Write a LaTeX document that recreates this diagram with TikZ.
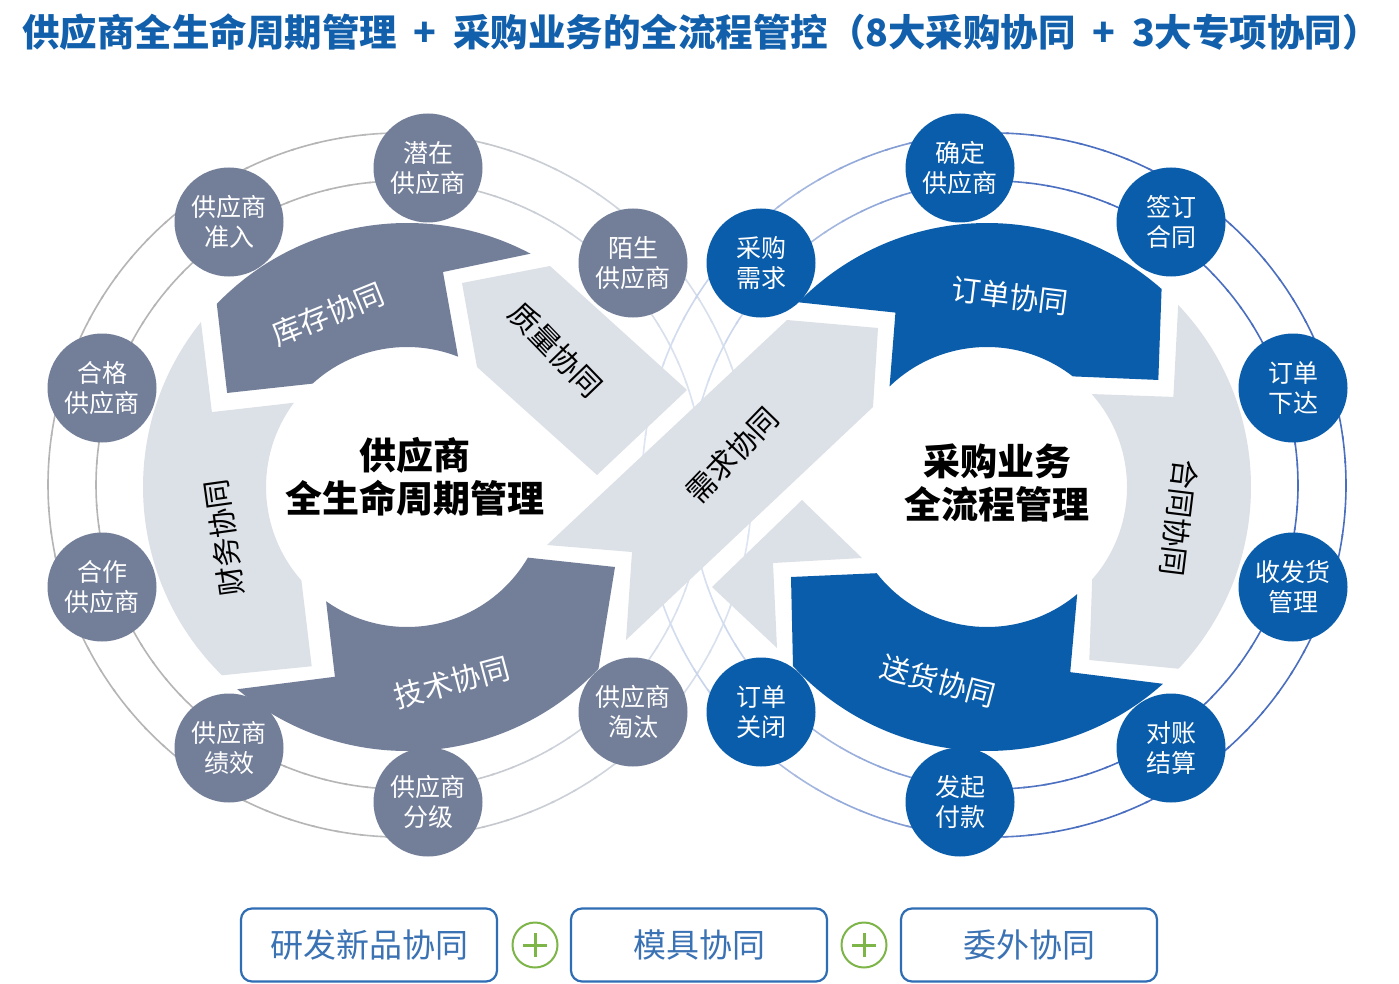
\documentclass[tikz,border=0pt]{standalone}
\usepackage{fontspec}
\newfontfamily\cjk{Noto Sans CJK SC}
\definecolor{blueA}{HTML}{0A5DAA}
\definecolor{grayA}{HTML}{737F99}
\definecolor{lightA}{HTML}{DCE0E7}
\definecolor{ringG}{HTML}{B5B5B5}
\definecolor{ringB}{HTML}{4A6EC0}
\definecolor{ringL}{HTML}{DDE5F3}
\definecolor{titleblue}{HTML}{1260AC}
\definecolor{boxblue}{HTML}{2F6DB5}
\definecolor{boxtext}{HTML}{3B72B4}
\definecolor{plusgreen}{HTML}{7DB548}
\tikzset{
  sat/.style={circle, minimum size=109pt, inner sep=0pt, text=white, align=center,
    font=\cjk\fontsize{25}{30}\selectfont},
  satL/.style={sat, fill=grayA},
  satR/.style={sat, fill=blueA},
  arrlbl/.style={inner sep=0pt, font=\cjk\fontsize{29.5}{30}\selectfont},
  centerlbl/.style={inner sep=0pt, align=center, font=\cjk\bfseries\fontsize{37}{43}\selectfont},
  boxnode/.style={draw=boxblue, line width=2.2pt, rounded corners=11pt, fill=white,
    minimum width=256pt, minimum height=73pt, inner sep=0pt, text=boxtext,
    font=\cjk\fontsize{33}{36}\selectfont},
  plusnode/.style={circle, draw=plusgreen, line width=2pt, minimum size=45pt, inner sep=0pt},
  plusbar/.style={plusgreen, line width=3pt}
}
\begin{document}
\begin{tikzpicture}[x=1pt,y=-1pt]
\useasboundingbox (0,0) rectangle (1399,984);
\fill[white] (0,0) rectangle (1399,984);

% ---------- rings ----------
\begin{scope}[shift={(400,485)}]
\foreach \a in {0,4,...,356}{
  \pgfmathtruncatemacro\p{max(0,min(100,100*(1-cos(\a+2))*0.85))}
  \foreach \r in {304,352}{
    \draw[ringG!\p!ringL, line width=1.6pt] (\a:\r) arc[start angle=\a, end angle=\a+4.5, radius=\r];
  }
}
\end{scope}
\begin{scope}[shift={(994,485)}]
\foreach \a in {0,4,...,356}{
  \pgfmathtruncatemacro\p{max(0,min(100,100*(1+cos(\a+2))*0.85))}
  \foreach \r in {304,352}{
    \draw[ringB!\p!ringL, line width=1.6pt] (\a:\r) arc[start angle=\a, end angle=\a+4.5, radius=\r];
  }
}
\end{scope}

% ---------- left cycle arrows ----------
\begin{scope}[shift={(407,487)}]
% finance (light, left)
\fill[lightA] (134.5:264) arc[start angle=134.5, end angle=218.7, radius=264]
  -- (201:209) -- (216.7:141) arc[start angle=216.7, end angle=138.5, radius=141]
  -- (118:203) -- cycle;
% inventory (dark, top)
\fill[grayA] (223.9:264) arc[start angle=223.9, end angle=297.9, radius=264]
  -- (279.5:218) -- (291.4:140) arc[start angle=291.4, end angle=227.6, radius=140]
  -- (207.6:203) -- cycle;
% technology (dark, bottom)
\fill[grayA] (43.5:264) arc[start angle=43.5, end angle=130, radius=264]
  -- (110.8:203) -- (125.3:140) arc[start angle=125.3, end angle=30.3, radius=140]
  -- (208,80) -- cycle;
\end{scope}

% ---------- right cycle arrows ----------
\begin{scope}[shift={(987,487)}]
% order (blue, top)
\fill[blueA] (-48.6:264) arc[start angle=-48.6, end angle=-135.6, radius=264]
  -- (-117.7:197) -- (-134.1:140) arc[start angle=-134.1, end angle=-52.2, radius=140]
  -- (-32:202) -- cycle;
% contract (light, right)
\fill[lightA] (-43.6:264) -- (-25.8:207) -- (-41.6:140)
  arc[start angle=-41.6, end angle=41.3, radius=140]
  -- (59.4:201) -- (43.5:264) arc[start angle=43.5, end angle=-43.6, radius=264] -- cycle;
% delivery (blue, bottom)
\fill[blueA] (48.2:264) -- (65.8:203) -- (49.9:140)
  arc[start angle=49.9, end angle=142, radius=140]
  -- (-196,90) -- (137.3:264) arc[start angle=137.3, end angle=48.2, radius=264] -- cycle;
\end{scope}

% ---------- crossing pieces ----------
\fill[lightA] (462,283) -- (550,266) -- (687,390) -- (597,475) -- (477,367) -- cycle;
\fill[lightA] (712,587) -- (802,500) -- (862,558) -- (773,563) -- (777,648) -- cycle;
\fill[lightA] (547,545) -- (632,552) -- (626,640) -- (873,407) -- (878,328) -- (787,320) -- cycle;

% ---------- arrow labels ----------
\node[arrlbl, text=white, rotate=22] (kc) at (328,314) {库存协同};
\node[arrlbl, text=black, rotate=-46] (zl) at (556,350) {质量协同};
\node[arrlbl, text=black, rotate=98] (cw) at (224,538) {财务协同};
\node[arrlbl, text=white, rotate=15] (js) at (452,682) {技术协同};
\node[arrlbl, text=black, rotate=46] (xq) at (732,455) {需求协同};
\node[arrlbl, text=white, rotate=-7] (dd) at (1010,296) {订单协同};
\node[arrlbl, text=black, rotate=-97] (ht) at (1179,518) {合同协同};
\node[arrlbl, text=white, rotate=-15] (sh) at (938,681) {送货协同};

% ---------- centre labels ----------
\node[centerlbl] (cl) at (415,477) {供应商\\全生命周期管理};
\node[centerlbl] (cr) at (997,483) {采购业务\\全流程管理};

% ---------- satellites ----------
\node[satL] (s1) at (428,168) {潜在\\供应商};
\node[satL] (s2) at (229,222) {供应商\\准入};
\node[satL] (s3) at (102,388) {合格\\供应商};
\node[satL] (s4) at (102,587) {合作\\供应商};
\node[satL] (s5) at (229,748) {供应商\\绩效};
\node[satL] (s6) at (428,802) {供应商\\分级};
\node[satL] (s7) at (633,263) {陌生\\供应商};
\node[satL] (s8) at (633,712) {供应商\\淘汰};
\node[satR] (r1) at (960,168) {确定\\供应商};
\node[satR] (r2) at (1171,222) {签订\\合同};
\node[satR] (r3) at (1293,388) {订单\\下达};
\node[satR] (r4) at (1293,587) {收发货\\管理};
\node[satR] (r5) at (1171,748) {对账\\结算};
\node[satR] (r6) at (960,802) {发起\\付款};
\node[satR] (r7) at (761,263) {采购\\需求};
\node[satR] (r8) at (761,712) {订单\\关闭};

% ---------- title ----------
\node[inner sep=0pt, text=titleblue, font=\cjk\bfseries\fontsize{37.5}{40}\selectfont] (title) at (701,32)
  {供应商全生命周期管理\hspace{8pt} + \hspace{8pt}采购业务的全流程管控（8大采购协同\hspace{8pt} + \hspace{8pt}3大专项协同）};

% ---------- bottom ----------
\node[boxnode] (b1) at (369,945) {研发新品协同};
\node[boxnode] (b2) at (699,945) {模具协同};
\node[boxnode] (b3) at (1029,945) {委外协同};
\node[plusnode] (p1) at (535,945) {};
\node[plusnode] (p2) at (864,945) {};
\draw[plusbar] ([yshift=-12pt]p1.center) -- ([yshift=12pt]p1.center);
\draw[plusbar] ([xshift=-12pt]p1.center) -- ([xshift=12pt]p1.center);
\draw[plusbar] ([yshift=-12pt]p2.center) -- ([yshift=12pt]p2.center);
\draw[plusbar] ([xshift=-12pt]p2.center) -- ([xshift=12pt]p2.center);
\end{tikzpicture}
\end{document}
